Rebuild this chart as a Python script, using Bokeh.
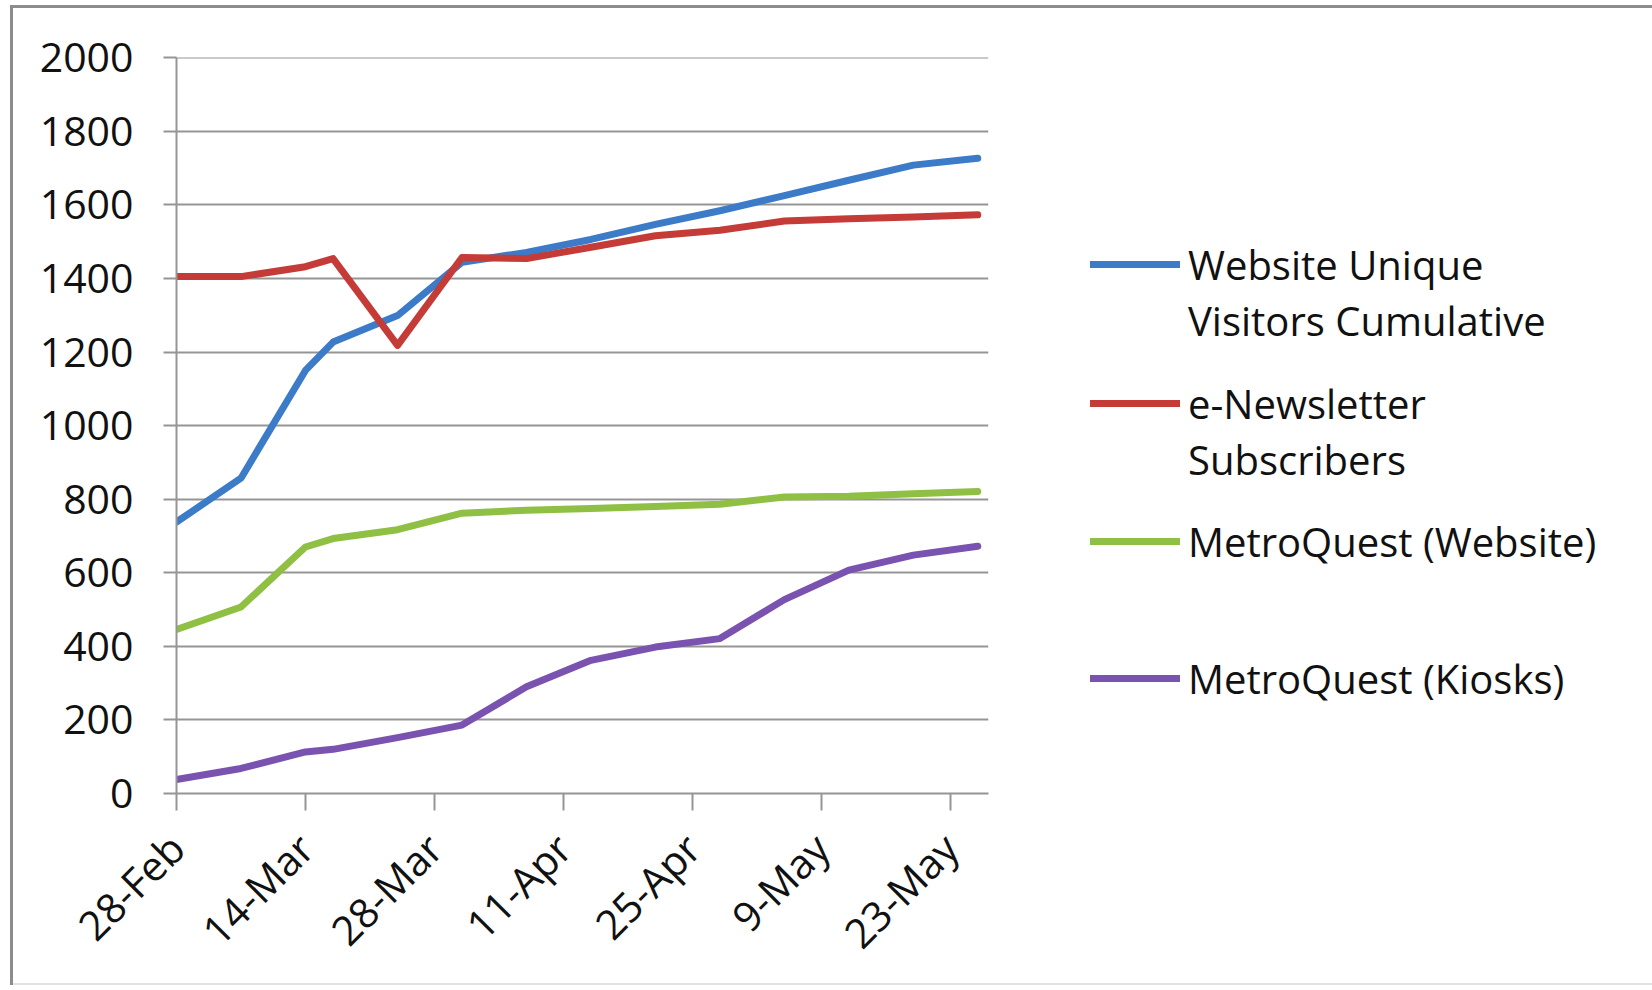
import pandas as pd
from math import pi
from bokeh.plotting import figure
from bokeh.layouts import row
from bokeh.models import FixedTicker, Legend, LegendItem, Range1d
from bokeh.embed import file_html
from bokeh.resources import INLINE

# ---- data ----
dates = ["2011-02-28", "2011-03-07", "2011-03-14", "2011-03-17", "2011-03-24",
         "2011-03-31", "2011-04-07", "2011-04-14", "2011-04-21", "2011-04-28",
         "2011-05-05", "2011-05-12", "2011-05-19", "2011-05-26"]
website_unique_visitors = [738, 857, 1150, 1227, 1299, 1444, 1471, 1506, 1547, 1584,
                           1625, 1667, 1708, 1727]
enewsletter_subscribers = [1405, 1405, 1432, 1454, 1218, 1457, 1454, 1485, 1516, 1531,
                           1556, 1562, 1567, 1573]
metroquest_website = [446, 507, 670, 693, 717, 762, 770, 775, 780, 786,
                      806, 808, 815, 821]
metroquest_kiosks = [38, 68, 113, 120, 152, 186, 290, 362, 398, 421,
                     527, 607, 648, 672]

series_labels = [["Website Unique", "Visitors Cumulative"],
                 ["e-Newsletter", "Subscribers"],
                 ["MetroQuest (Website)"],
                 ["MetroQuest (Kiosks)"]]
series_colors = ["#3b7bc8", "#c43b37", "#8fc043", "#7a52b0"]

x_tick_dates = ["2011-02-28", "2011-03-14", "2011-03-28", "2011-04-11",
                "2011-04-25", "2011-05-09", "2011-05-23"]
x_tick_labels = ["28-Feb", "14-Mar", "28-Mar", "11-Apr", "25-Apr", "9-May", "23-May"]
y_ticks = [0, 200, 400, 600, 800, 1000, 1200, 1400, 1600, 1800, 2000]
x_start_date = "2011-02-28T00:00"
x_end_date = "2011-05-27T04:00"


def to_ms(vals):
    out = []
    for v in vals:
        t = pd.Timestamp(v)
        out.append(float((t - pd.Timestamp("1970-01-01")) / pd.Timedelta(milliseconds=1)))
    return out


x_ms = to_ms(dates)
tick_ms = to_ms(x_tick_dates)
x0, x1 = to_ms([x_start_date, x_end_date])

FONT = "Open Sans"
GRID = "#959595"
TEXT = "#111111"
LW = 7

H = 980
W1, W2 = 1000, 642
ML, MT = 166, 52
FW, FH = 812, 736
MR = W1 - ML - FW
MB = H - MT - FH

p = figure(width=W1, height=H, x_axis_type="datetime",
           output_backend="svg", toolbar_location=None,
           x_range=Range1d(x0, x1), y_range=Range1d(0, y_ticks[-1] + 0.6),
           min_border_left=ML, min_border_right=MR,
           min_border_top=MT, min_border_bottom=MB)
p.outline_line_color = None
p.background_fill_color = "white"
p.border_fill_alpha = 0

series_values = [website_unique_visitors, enewsletter_subscribers,
                 metroquest_website, metroquest_kiosks]
for vals, color in zip(series_values, series_colors):
    p.line(x_ms, vals, line_color=color, line_width=LW,
           line_cap="round", line_join="round")

# axes
p.xgrid.grid_line_color = None
p.ygrid.ticker = FixedTicker(ticks=y_ticks)
p.ygrid.grid_line_color = GRID
p.ygrid.grid_line_width = 2

p.yaxis.ticker = FixedTicker(ticks=y_ticks)
p.xaxis.ticker = FixedTicker(ticks=tick_ms)
p.xaxis.major_label_overrides = {t: lab for t, lab in zip(tick_ms, x_tick_labels)}
p.xaxis.major_label_orientation = pi / 4

for ax in (p.xaxis[0], p.yaxis[0]):
    ax.axis_line_color = GRID
    ax.axis_line_width = 2
    ax.major_tick_line_color = GRID
    ax.major_tick_line_width = 2
    ax.minor_tick_line_color = None
    ax.major_tick_in = 0
    ax.major_label_text_font = FONT
    ax.major_label_text_font_size = "41px"
    ax.major_label_text_color = TEXT
p.yaxis.major_tick_out = 13
p.yaxis.major_label_standoff = 30
p.xaxis.major_tick_out = 17
p.xaxis.major_label_standoff = 30

# ---- legend panel (second figure to the right of the chart) ----
# same vertical borders as the chart, so both frames coincide
lf = figure(width=W2, height=H, output_backend="svg", toolbar_location=None,
            x_range=Range1d(0, 1), y_range=Range1d(0, 1),
            min_border_left=0, min_border_right=0,
            min_border_top=MT, min_border_bottom=MB)
lf.axis.visible = False
lf.grid.visible = False
lf.outline_line_color = None
lf.background_fill_alpha = 0
lf.border_fill_alpha = 0

# proxy renderers for the legend glyphs (their data lie outside the visible range)
proxies = [lf.line([5, 6], [5, 6], line_color=c, line_width=LW, line_cap="round")
           for c in series_colors]
blank = lf.line([5, 6], [5, 6], line_alpha=0)

ROW = 56
first_line_centers = [259, 398, 536, 673]   # px from top of legend panel
frame_bottom = MT + FH
for r, labels, cy in zip(proxies, series_labels, first_line_centers):
    items = [LegendItem(label=labels[0], renderers=[r])]
    items += [LegendItem(label=lab, renderers=[blank]) for lab in labels[1:]]
    bottom = cy - ROW / 2 + ROW * len(labels)
    leg = Legend(items=items, location=(80, frame_bottom - bottom), orientation="vertical")
    leg.label_text_font = FONT
    leg.label_text_font_size = "40px"
    leg.label_text_color = TEXT
    leg.glyph_width = 90
    leg.glyph_height = ROW
    leg.label_height = ROW
    leg.label_standoff = 8
    leg.spacing = 0
    leg.padding = 0
    leg.margin = 0
    leg.border_line_alpha = 0
    leg.background_fill_alpha = 0
    lf.add_layout(leg, "center")

layout = row(p, lf)
layout.styles = {"margin-left": "10px", "margin-top": "5px",
                 "box-shadow": "inset 3px 3px 0 0 #8c8c8c, inset 0 -2px 0 0 #e2e2e2"}

open("out.html", "w").write(file_html(layout, INLINE))
